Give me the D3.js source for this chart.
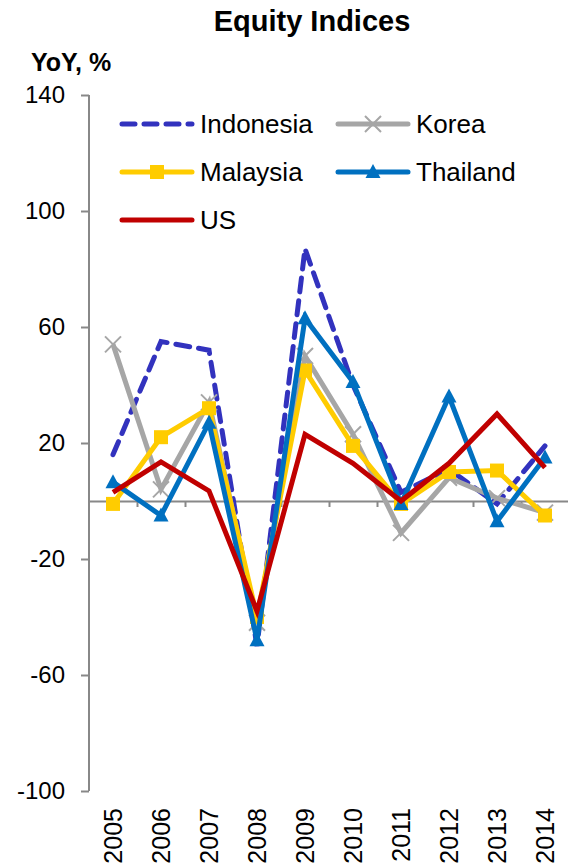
<!DOCTYPE html>
<html>
<head>
<meta charset="utf-8">
<script src="https://cdn.jsdelivr.net/npm/d3@7.9.0/dist/d3.min.js"></script>
<style>
  body { margin: 0; background: #fff; }
  svg { font-family: "Liberation Sans", Arial, sans-serif; display: block; }
</style>
</head>
<body>
<svg id="chart" width="568" height="866"></svg>
<script>
const years = ['2005', '2006', '2007', '2008', '2009', '2010', '2011', '2012', '2013', '2014'];
const indonesia = [16, 55, 52, -50, 87, 40, 3, 11, -1, 19];
const korea = [54, 4, 34, -42, 50, 23, -11, 8, 1, -4];
const malaysia = [-1, 22, 32, -40, 45, 19, -1, 10, 10.5, -5];
const thailand = [6.5, -5, 27, -48, 63, 41, -1, 36, -7, 15];
const us = [3, 13.5, 3.5, -38, 23, 13, 0, 13, 30, 11.5];
const yTicks = [-100, -60, -20, 20, 60, 100, 140];

const series = [
  { name: 'Indonesia', values: indonesia, color: '#3232BE', dash: '14,9', marker: null },
  { name: 'Korea', values: korea, color: '#A6A6A6', dash: null, marker: 'x' },
  { name: 'Malaysia', values: malaysia, color: '#FFCC00', dash: null, marker: 'square' },
  { name: 'Thailand', values: thailand, color: '#0070C0', dash: null, marker: 'triangle' },
  { name: 'US', values: us, color: '#C00000', dash: null, marker: null }
];

const svg = d3.select('#chart');
const plotLeft = 89, plotRight = 569, plotTop = 95, plotBottom = 791;

const x = d3.scaleBand().domain(years).range([plotLeft, plotRight]);
const y = d3.scaleLinear().domain([-100, 140]).range([plotBottom, plotTop]);

// title + unit label
svg.append('text')
  .attr('x', 312).attr('y', 31)
  .attr('text-anchor', 'middle')
  .attr('font-size', 29).attr('font-weight', 'bold')
  .text('Equity Indices');

svg.append('text')
  .attr('x', 31).attr('y', 71)
  .attr('font-size', 25).attr('font-weight', 'bold')
  .text('YoY, %');

// y axis
const yAxis = svg.append('g')
  .attr('transform', `translate(${plotLeft},0)`)
  .call(d3.axisLeft(y).tickValues(yTicks).tickFormat((d) => String(d))
    .tickSize(8).tickPadding(16).tickSizeOuter(0));
yAxis.attr('font-family', null);
yAxis.select('.domain').attr('stroke', '#888').attr('stroke-width', 2)
  .attr('d', `M0,${plotTop}V${plotBottom}`);
yAxis.selectAll('.tick line').attr('stroke', '#888').attr('stroke-width', 2);
yAxis.selectAll('.tick text').attr('font-size', 24).attr('fill', '#000');

// zero line with ticks between categories
const bounds = d3.range(1, years.length + 1).map((i) => plotLeft + i * x.bandwidth());
const xb = d3.scaleLinear().domain([plotLeft, plotRight]).range([plotLeft, plotRight]);
const zeroAxis = svg.append('g')
  .attr('transform', `translate(0,${y(0)})`)
  .call(d3.axisBottom(xb).tickValues(bounds).tickSize(6).tickSizeOuter(0).tickFormat(''));
zeroAxis.select('.domain').attr('stroke', '#888').attr('stroke-width', 2);
zeroAxis.selectAll('.tick line').attr('stroke', '#888').attr('stroke-width', 2);

// year labels at bottom
const xAxis = svg.append('g')
  .attr('transform', `translate(0,${plotBottom})`)
  .call(d3.axisBottom(x).tickSize(0));
xAxis.attr('font-family', null);
xAxis.select('.domain').remove();
xAxis.selectAll('.tick text')
  .attr('font-size', 25).attr('fill', '#000')
  .attr('transform', 'rotate(-90)')
  .attr('x', -17).attr('y', 0).attr('dy', '0.35em')
  .attr('text-anchor', 'end');

// lines
const line = d3.line()
  .x((d, i) => x(years[i]) + x.bandwidth() / 2)
  .y((d) => y(d));

function drawMarker(g, type, color, cx, cy) {
  if (type === 'x') {
    const s = 8;
    g.append('path')
      .attr('d', `M${cx - s},${cy - s}L${cx + s},${cy + s}M${cx - s},${cy + s}L${cx + s},${cy - s}`)
      .attr('stroke', color).attr('stroke-width', 2).attr('fill', 'none');
  } else if (type === 'square') {
    g.append('rect')
      .attr('x', cx - 7).attr('y', cy - 7).attr('width', 14).attr('height', 14)
      .attr('fill', color);
  } else if (type === 'triangle') {
    g.append('path')
      .attr('d', `M${cx},${cy - 8}L${cx + 7.5},${cy + 6}L${cx - 7.5},${cy + 6}Z`)
      .attr('fill', color);
  }
}

series.forEach((s) => {
  const g = svg.append('g');
  g.append('path')
    .datum(s.values)
    .attr('d', line)
    .attr('fill', 'none')
    .attr('stroke', s.color)
    .attr('stroke-width', 5)
    .attr('stroke-linejoin', 'miter')
    .attr('stroke-linecap', s.dash ? 'round' : 'butt')
    .attr('stroke-dasharray', s.dash);
  if (s.marker) {
    s.values.forEach((v, i) => {
      drawMarker(g, s.marker, s.color, x(years[i]) + x.bandwidth() / 2, y(v));
    });
  }
});

// legend
const legend = svg.append('g');
series.forEach((s, i) => {
  const col = i % 2, row = Math.floor(i / 2);
  const lx = col === 0 ? 122 : 338;
  const ly = 124 + row * 48;
  const item = legend.append('g');
  item.append('line')
    .attr('x1', lx).attr('x2', lx + 70).attr('y1', ly).attr('y2', ly)
    .attr('stroke', s.color).attr('stroke-width', 5)
    .attr('stroke-linecap', 'round')
    .attr('stroke-dasharray', s.dash ? '13,9' : null);
  if (s.marker) drawMarker(item, s.marker, s.color, lx + 35, ly);
  item.append('text')
    .attr('x', lx + 78).attr('y', ly)
    .attr('dy', '0.35em')
    .attr('font-size', 26)
    .text(s.name);
});
</script>
</body>
</html>
